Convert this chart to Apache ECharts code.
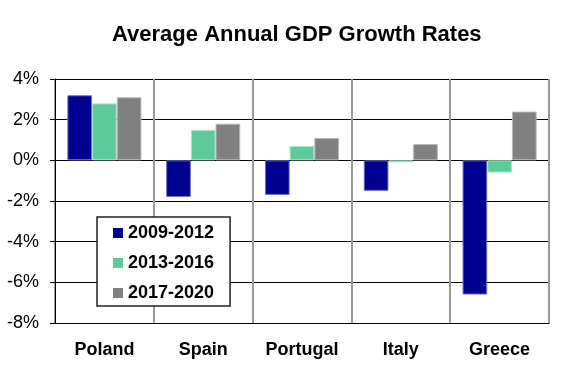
<!DOCTYPE html>
<html>
<head>
<meta charset="utf-8">
<script src="https://cdn.jsdelivr.net/npm/echarts@6/dist/echarts.min.js"></script>
<style>
  html, body { margin: 0; padding: 0; background: #fff; }
  #chart { width: 576px; height: 378px; }
</style>
</head>
<body>
<div id="chart"></div>
<script>
const countries = ['Poland', 'Spain', 'Portugal', 'Italy', 'Greece'];
const periods = ['2009-2012', '2013-2016', '2017-2020'];
const growth0912 = [3.2, -1.8, -1.7, -1.5, -6.6];
const growth1316 = [2.8, 1.5, 0.7, -0.1, -0.6];
const growth1720 = [3.1, 1.8, 1.1, 0.8, 2.4];

const font = '"Liberation Sans", Arial, sans-serif';
const colors = ['#000090', '#5ec99b', '#808080'];
const borders = ['#7070c0', '#a8e4c8', '#b8b8b8'];

const chart = echarts.init(document.getElementById('chart'));

const seriesData = [growth0912, growth1316, growth1720];

const option = {
  animation: false,
  title: {
    text: 'Average Annual GDP Growth Rates',
    left: 112,
    top: 24,
    padding: 0,
    textStyle: { fontFamily: font, fontSize: 22, fontWeight: 'bold', color: '#000' }
  },
  legend: {
    orient: 'vertical',
    left: 97,
    top: 217,
    padding: [6, 16, 3, 16],
    itemGap: 10,
    itemWidth: 10,
    itemHeight: 10,
    itemTextGap: 5,
    icon: 'rect',
    backgroundColor: '#fff',
    borderColor: '#222',
    borderWidth: 1.5,
    data: periods,
    itemStyle: { borderWidth: 0 },
    textStyle: { fontFamily: font, fontSize: 18, fontWeight: 'bold', color: '#000', lineHeight: 20 }
  },
  grid: { left: 55, right: 27, top: 79, bottom: 55, containLabel: false },
  xAxis: {
    type: 'category',
    data: countries,
    axisLine: { onZero: false, lineStyle: { color: '#000', width: 1 } },
    axisTick: { show: false },
    axisLabel: { fontFamily: font, fontSize: 18, fontWeight: 'bold', color: '#000', margin: 18 },
    splitLine: { show: true, lineStyle: { color: '#999', width: 2 } }
  },
  yAxis: {
    type: 'value',
    min: -8,
    max: 4,
    interval: 2,
    axisLine: { show: true, lineStyle: { color: '#000', width: 1 } },
    axisTick: { show: true, length: 5, lineStyle: { color: '#000' } },
    axisLabel: { fontFamily: font, fontSize: 18, color: '#000', margin: 16, formatter: '{value}%' },
    splitLine: { show: true, lineStyle: { color: '#000', width: 1 } }
  },
  series: periods.map((name, i) => ({
    name: name,
    type: 'bar',
    data: seriesData[i],
    barGap: 0,
    barCategoryGap: '25%',
    itemStyle: { color: colors[i], borderColor: borders[i], borderWidth: 1 }
  }))
};

chart.setOption(option);
</script>
</body>
</html>
